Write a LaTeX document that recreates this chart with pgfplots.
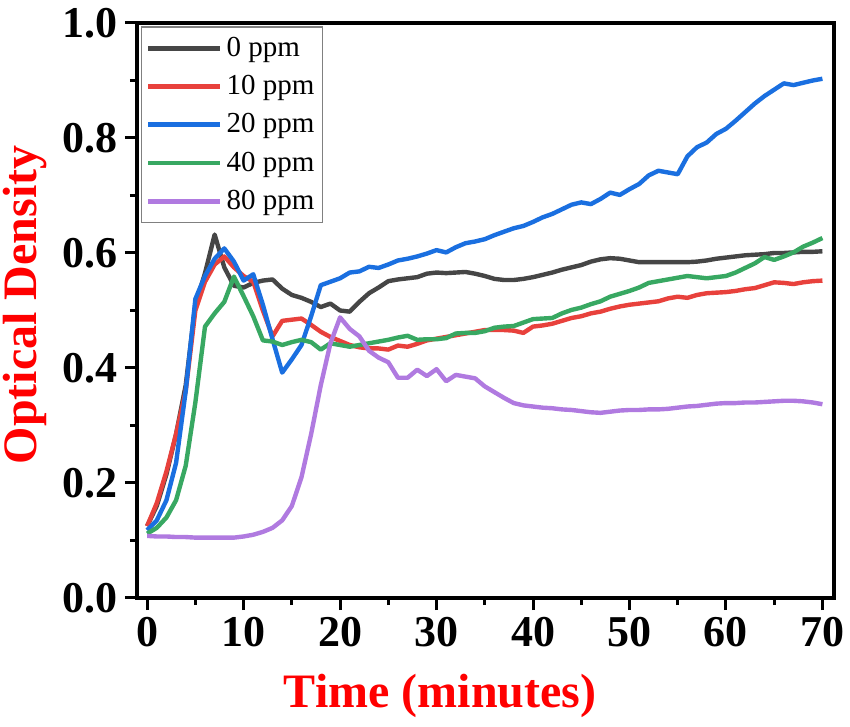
\documentclass[border=0pt]{standalone}
\usepackage{fontspec}
\setmainfont{Liberation Serif}
\usepackage{pgfplots}
\pgfplotsset{compat=1.18}
\definecolor{cBlack}{HTML}{464646}
\definecolor{cRed}{HTML}{E8413C}
\definecolor{cBlue}{HTML}{1A6FE0}
\definecolor{cGreen}{HTML}{38A862}
\definecolor{cPurple}{HTML}{B07AE0}
\begin{document}
\begin{tikzpicture}
\useasboundingbox (-68.5pt,-64.5pt) rectangle (356.5pt,299pt);
\begin{axis}[
  scale only axis,
  width=348.5pt, height=287.5pt,
  xmin=-1.05, xmax=71.2, ymin=0, ymax=1.0,
  xtick={0,10,...,70}, ytick={0,0.2,...,1.0},
  minor xtick={5,15,...,65}, minor ytick={0.1,0.3,...,0.9},
  xtick pos=left, ytick pos=left,
  tick align=outside,
  major tick length=6pt, minor tick length=3.5pt,
  every tick/.style={line width=1.5pt, black},
  axis line style={line width=2pt},
  /pgf/number format/assume math mode=true,
  yticklabel style={/pgf/number format/fixed, /pgf/number format/precision=1, /pgf/number format/fixed zerofill},
  ticklabel style={font=\fontsize{22}{24}\selectfont\bfseries},
  xlabel={Time (minutes)},
  ylabel={Optical Density},
  label style={font=\fontsize{24}{28}\selectfont\bfseries, text=red},
  xlabel style={at={(axis description cs:0.435,0)}, anchor=north, inner sep=0pt, yshift=-38pt},
  ylabel style={at={(axis description cs:0,0.51)}, anchor=center, inner sep=0pt, yshift=56pt},
  legend style={at={(rel axis cs:0.006,0.994)}, anchor=north west, draw=gray, line width=0.6pt,
    font=\fontsize{14.5}{16}\selectfont, row sep=4pt, inner xsep=2pt, inner ysep=3pt},
  legend cell align=left,
  legend image code/.code={\draw[line width=2.4pt,#1] (0pt,0pt) -- (36pt,0pt);},
  every axis plot/.append style={line width=2.2pt, line join=round},
]
\addplot[cBlack] coordinates {
(0,0.125)(1,0.16)(2,0.215)(3,0.285)(4,0.37)(5,0.51)(6,0.565)(7,0.632)(8,0.575)(9,0.543)
(10,0.540)(11,0.548)(12,0.552)(13,0.554)(14,0.538)(15,0.527)(16,0.522)(17,0.515)(18,0.506)(19,0.512)
(20,0.500)(21,0.498)(22,0.515)(23,0.53)(24,0.54)(25,0.551)(26,0.554)(27,0.556)(28,0.558)(29,0.564)
(30,0.566)(31,0.565)(32,0.566)(33,0.567)(34,0.564)(35,0.560)(36,0.555)(37,0.553)(38,0.553)(39,0.555)
(40,0.558)(41,0.562)(42,0.566)(43,0.571)(44,0.575)(45,0.579)(46,0.585)(47,0.589)(48,0.591)(49,0.590)
(50,0.587)(51,0.584)(52,0.584)(53,0.584)(54,0.584)(55,0.584)(56,0.584)(57,0.585)(58,0.587)(59,0.590)
(60,0.592)(61,0.594)(62,0.596)(63,0.597)(64,0.598)(65,0.600)(66,0.600)(67,0.601)(68,0.602)(69,0.602)(70,0.603)};
\addlegendentry{0 ppm}
\addplot[cRed] coordinates {
(0,0.125)(1,0.165)(2,0.22)(3,0.285)(4,0.36)(5,0.5)(6,0.55)(7,0.58)(8,0.594)(9,0.575)
(10,0.56)(11,0.55)(12,0.50)(13,0.455)(14,0.482)(15,0.484)(16,0.486)(17,0.475)(18,0.463)(19,0.454)
(20,0.447)(21,0.44)(22,0.436)(23,0.434)(24,0.434)(25,0.432)(26,0.439)(27,0.437)(28,0.442)(29,0.448)
(30,0.451)(31,0.454)(32,0.457)(33,0.46)(34,0.463)(35,0.466)(36,0.466)(37,0.466)(38,0.465)(39,0.461)
(40,0.472)(41,0.474)(42,0.477)(43,0.482)(44,0.487)(45,0.490)(46,0.495)(47,0.498)(48,0.503)(49,0.507)
(50,0.510)(51,0.512)(52,0.514)(53,0.516)(54,0.521)(55,0.524)(56,0.522)(57,0.527)(58,0.530)(59,0.531)
(60,0.532)(61,0.534)(62,0.537)(63,0.539)(64,0.544)(65,0.549)(66,0.548)(67,0.546)(68,0.549)(69,0.551)(70,0.552)};
\addlegendentry{10 ppm}
\addplot[cBlue] coordinates {
(0,0.118)(1,0.135)(2,0.17)(3,0.235)(4,0.36)(5,0.52)(6,0.56)(7,0.59)(8,0.608)(9,0.585)
(10,0.552)(11,0.563)(12,0.51)(13,0.45)(14,0.392)(15,0.415)(16,0.44)(17,0.49)(18,0.544)(19,0.55)
(20,0.556)(21,0.566)(22,0.568)(23,0.576)(24,0.574)(25,0.58)(26,0.587)(27,0.59)(28,0.594)(29,0.599)
(30,0.605)(31,0.601)(32,0.61)(33,0.617)(34,0.62)(35,0.624)(36,0.631)(37,0.637)(38,0.643)(39,0.647)
(40,0.654)(41,0.662)(42,0.668)(43,0.676)(44,0.684)(45,0.688)(46,0.685)(47,0.694)(48,0.705)(49,0.701)
(50,0.711)(51,0.72)(52,0.735)(53,0.743)(54,0.74)(55,0.737)(56,0.768)(57,0.784)(58,0.792)(59,0.807)
(60,0.816)(61,0.83)(62,0.845)(63,0.86)(64,0.873)(65,0.884)(66,0.895)(67,0.892)(68,0.896)(69,0.9)(70,0.903)};
\addlegendentry{20 ppm}
\addplot[cGreen] coordinates {
(0,0.112)(1,0.122)(2,0.14)(3,0.17)(4,0.23)(5,0.34)(6,0.472)(7,0.495)(8,0.515)(9,0.559)
(10,0.525)(11,0.49)(12,0.448)(13,0.446)(14,0.44)(15,0.445)(16,0.449)(17,0.445)(18,0.432)(19,0.443)
(20,0.44)(21,0.437)(22,0.44)(23,0.443)(24,0.446)(25,0.449)(26,0.453)(27,0.456)(28,0.449)(29,0.45)
(30,0.45)(31,0.452)(32,0.46)(33,0.461)(34,0.461)(35,0.464)(36,0.47)(37,0.472)(38,0.473)(39,0.479)
(40,0.485)(41,0.486)(42,0.487)(43,0.495)(44,0.501)(45,0.505)(46,0.511)(47,0.516)(48,0.524)(49,0.529)
(50,0.534)(51,0.54)(52,0.548)(53,0.551)(54,0.554)(55,0.557)(56,0.56)(57,0.558)(58,0.556)(59,0.558)
(60,0.56)(61,0.566)(62,0.574)(63,0.582)(64,0.593)(65,0.588)(66,0.594)(67,0.601)(68,0.611)(69,0.618)(70,0.626)};
\addlegendentry{40 ppm}
\addplot[cPurple] coordinates {
(0,0.108)(1,0.107)(2,0.107)(3,0.106)(4,0.106)(5,0.105)(6,0.105)(7,0.105)(8,0.105)(9,0.105)
(10,0.107)(11,0.11)(12,0.115)(13,0.122)(14,0.135)(15,0.16)(16,0.21)(17,0.285)(18,0.37)(19,0.443)
(20,0.488)(21,0.468)(22,0.455)(23,0.43)(24,0.418)(25,0.41)(26,0.383)(27,0.383)(28,0.397)(29,0.386)
(30,0.398)(31,0.377)(32,0.388)(33,0.385)(34,0.382)(35,0.368)(36,0.358)(37,0.348)(38,0.339)(39,0.335)
(40,0.333)(41,0.331)(42,0.33)(43,0.328)(44,0.327)(45,0.325)(46,0.323)(47,0.322)(48,0.324)(49,0.326)
(50,0.327)(51,0.327)(52,0.328)(53,0.328)(54,0.329)(55,0.331)(56,0.333)(57,0.334)(58,0.336)(59,0.338)
(60,0.339)(61,0.339)(62,0.34)(63,0.34)(64,0.341)(65,0.342)(66,0.343)(67,0.343)(68,0.342)(69,0.34)(70,0.337)};
\addlegendentry{80 ppm}
\end{axis}
\end{tikzpicture}
\end{document}
